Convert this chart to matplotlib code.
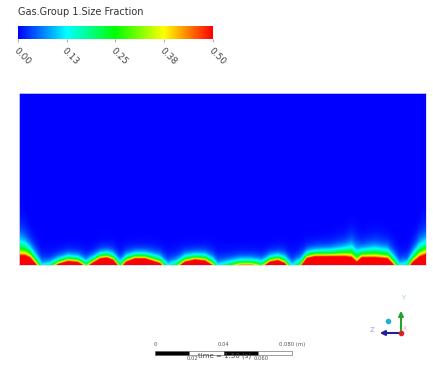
import numpy as np
import matplotlib
matplotlib.use("Agg")
import matplotlib.pyplot as plt
from matplotlib.colors import LinearSegmentedColormap

# level of the 0.50 contour along the floor (mm) and width of the fringe above it (mm)
bed_x = [0, 3.3, 6.1, 9.4, 12.7, 17.1, 21.5, 27.0, 32.6, 37.0, 40.3, 44.7, 48.6,
         51.9, 55.8, 59.1, 64.0, 69.6, 73.4, 77.8, 82.2, 86.7, 91.6, 97.2, 102.7,
         107.1, 109.8, 115.4, 122.0, 128.6, 134.1, 138.6, 143.0, 146.8, 150.7,
         155.1, 159.0, 163.4, 171.7, 180.0, 183.8, 186.6, 189.3, 196.5, 203.7,
         206.4, 210.3, 214.2, 217.5, 221.4, 224.7]
bed_h = [5.0, 5.0, 3.8, 0.0, -4.0, -2.5, 0.3, 2.0, 1.4, -1.5, 0.8, 3.4, 3.9,
         2.6, -2.0, 1.6, 3.4, 3.4, 2.2, 0.8, -4.0, -2.0, 1.6, 2.8, 2.2,
         -0.5, -4.0, -2.0, -0.3, -0.3, -1.5, 1.6, 2.4, 0.8, -4.0,
         -1.5, 3.6, 4.6, 4.6, 4.6, 4.0, 1.4, 4.0, 4.0, 3.4,
         0.5, -4.0, -3.0, 1.4, 4.4, 5.6]
fringe = [6.0, 5.0, 4.0, 3.5, 3.0, 2.6, 2.3, 2.3, 2.3, 2.6, 2.3, 2.3, 2.3,
          2.5, 2.8, 2.5, 2.3, 2.3, 2.5, 2.6, 3.0, 2.8, 2.5, 2.3, 2.5,
          2.8, 3.0, 2.6, 2.4, 2.4, 2.6, 2.3, 2.3, 2.6, 3.0,
          3.0, 2.5, 2.5, 2.7, 3.5, 4.5, 4.5, 3.2, 3.8, 3.5,
          3.5, 3.2, 3.0, 3.5, 4.8, 5.5]

domain_w, domain_h = 224.7, 95.0  # mm

cb_ticks = [0.0, 0.125, 0.25, 0.375, 0.5]
cb_labels = ["0.00", "0.13", "0.25", "0.38", "0.50"]

scale_ticks = [0, 0.02, 0.04, 0.06, 0.08]
scale_labels = ["0", "0.02", "0.04", "0.060", "0.080 (m)"]

cmap = LinearSegmentedColormap.from_list(
    "fluent", ["#0000ff", "#00ffff", "#00ff00", "#ffff00", "#ff0000"])

xs = np.linspace(0, domain_w, 900)
ys = np.linspace(0, domain_h, 380)
X, Y = np.meshgrid(xs, ys)
h = np.interp(xs, bed_x, bed_h)[None, :]
s = np.interp(xs, bed_x, fringe)[None, :]
field = np.clip(0.5 * np.exp(-(Y - h) / s), 0, 0.5)

fig = plt.figure(figsize=(4.33, 3.70), dpi=100)

ax = fig.add_axes([19 / 433, 1 - 265 / 370, 407 / 433, 172 / 370])
im = ax.imshow(field, origin="lower", cmap=cmap, vmin=0, vmax=0.5,
               extent=[0, domain_w, 0, domain_h], aspect="auto",
               interpolation="bilinear")
ax.set_xticks([])
ax.set_yticks([])
for sp in ax.spines.values():
    sp.set_color("#d8d8ff")
    sp.set_linewidth(0.6)

cax = fig.add_axes([18 / 433, 1 - 39 / 370, 195 / 433, 13 / 370])
cb = fig.colorbar(im, cax=cax, orientation="horizontal", ticks=cb_ticks)
cb.outline.set_visible(False)
cax.set_xticklabels(cb_labels, rotation=-45, ha="left", va="top",
                    rotation_mode="anchor", fontsize=6.5, color="#444444")
cax.tick_params(length=2, width=0.5, color="#888888", pad=3)
fig.text(18 / 433, 1 - 12 / 370, "Gas.Group 1.Size Fraction", fontsize=7,
         color="#333333", va="center", ha="left")

# overlay in pixel coordinates for scale bar and axis triad
ov = fig.add_axes([0, 0, 1, 1])
ov.set_xlim(0, 433)
ov.set_ylim(370, 0)
ov.axis("off")

x0, x1 = 155, 292
px_per_m = (x1 - x0) / scale_ticks[-1]
for i in range(len(scale_ticks) - 1):
    a = x0 + scale_ticks[i] * px_per_m
    b = x0 + scale_ticks[i + 1] * px_per_m
    ov.add_patch(plt.Rectangle((a, 351), b - a, 4,
                               facecolor="black" if i % 2 == 0 else "white",
                               edgecolor="#555555", linewidth=0.4))
for i, (t, lab) in enumerate(zip(scale_ticks, scale_labels)):
    px = x0 + t * px_per_m
    if i % 2 == 0:
        ov.text(px, 347, lab, fontsize=3.8, color="#555555", ha="center", va="bottom")
    else:
        ov.text(px + 3, 356, lab, fontsize=3.8, color="#555555", ha="center", va="top")
ov.text(225, 356, "time = 1.50 (s)", fontsize=5, color="#444444", ha="center", va="center")

# axis triad
ox, oy = 401, 333
ov.annotate("", xy=(ox, 308), xytext=(ox, oy),
            arrowprops=dict(arrowstyle="-|>", color="#2ca02c", lw=1.5, mutation_scale=7))
ov.annotate("", xy=(377, oy), xytext=(ox, oy),
            arrowprops=dict(arrowstyle="-|>", color="#1f1fa0", lw=1.5, mutation_scale=7))
ov.plot([ox], [oy], marker="o", markersize=3, color="#e02020")
ov.plot([388], [321], marker="o", markersize=3, color="#20b0d0")
ov.text(403, 298, "Y", fontsize=5, color="#a0e0a0", ha="center", va="center")
ov.text(372, 330, "Z", fontsize=5, color="#a0a0f0", ha="center", va="center")
ov.text(405, 329, "X", fontsize=4, color="#f0a0a0", ha="center", va="center")

fig.savefig("out.png", dpi=100)
